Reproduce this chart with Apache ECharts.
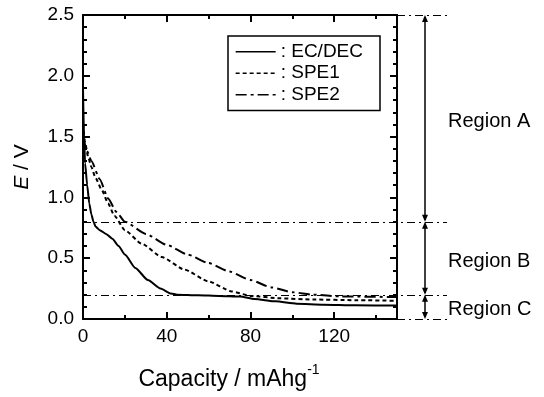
<!DOCTYPE html>
<html>
<head>
<meta charset="utf-8">
<script src="https://cdn.jsdelivr.net/npm/echarts@6/dist/echarts.min.js"></script>
<style>
  html, body { margin: 0; background: #fff; }
  #chart { width: 544px; height: 397px; }
</style>
</head>
<body>
<div id="chart"></div>
<script>
// discharge curves (capacity in mAh/g, E in V)
const capEC = [0, 0.5, 1, 2, 3, 4, 5, 6, 8, 11, 14, 17, 20, 25, 31, 37, 42, 45, 55, 65, 75, 82, 92, 102, 115, 130, 150]
const voltEC = [1.9, 1.5, 1.28, 1.1, 0.95, 0.86, 0.8, 0.76, 0.73, 0.7, 0.66, 0.6, 0.53, 0.42, 0.32, 0.25, 0.21, 0.2, 0.195, 0.19, 0.185, 0.165, 0.145, 0.126, 0.118, 0.113, 0.11]

const capSPE1 = [0, 1, 2.5, 4, 6, 9, 12, 15, 20, 28, 37.6, 48.7, 59.8, 71, 80, 94, 110, 130, 150]
const voltSPE1 = [1.6, 1.45, 1.33, 1.25, 1.16, 1.06, 0.95, 0.85, 0.73, 0.62, 0.51, 0.405, 0.31, 0.227, 0.19, 0.17, 0.16, 0.155, 0.15]

const capSPE2 = [0, 2, 4, 8, 12, 16, 20, 30, 40, 50, 60, 70, 80, 90, 100, 110, 123, 150]
const voltSPE2 = [1.5, 1.38, 1.3, 1.15, 0.99, 0.88, 0.8, 0.7, 0.61, 0.53, 0.46, 0.39, 0.32, 0.26, 0.22, 0.2, 0.186, 0.18]

const seriesNames = ['EC/DEC', 'SPE1', 'SPE2']
const xTickLabels = [0, 40, 80, 120]

// region boundaries (V) and their names, top to bottom
const regionBounds = [2.5, 0.8, 0.2, 0.0]
const regionNames = ['Region A', 'Region B', 'Region C']

const FONT = '"Liberation Sans", Arial, sans-serif'
const X_MAX = 150
const Y_MAX = 2.5

const chart = echarts.init(document.getElementById('chart'))

const pairs = (xs, ys) => xs.map((x, i) => [x, ys[i]])

// one x axis helper, used for the ticks on bottom and top
const xAxisDef = (position, step, tickLen, withLine) => ({
  type: 'value',
  position,
  min: 0,
  max: X_MAX,
  interval: step,
  axisLine: { show: withLine, onZero: false, lineStyle: { color: '#000', width: 2 } },
  axisTick: { show: true, inside: true, length: tickLen, lineStyle: { color: '#000', width: 2 } },
  axisLabel: { show: false },
  splitLine: { show: false },
})

const yAxisDef = (position) => ({
  type: 'value',
  position,
  min: 0,
  max: Y_MAX,
  interval: 0.5,
  axisLine: { show: true, onZero: false, lineStyle: { color: '#000', width: 2 } },
  axisTick: { show: true, inside: true, length: 7, lineStyle: { color: '#000', width: 2 } },
  minorTick: { show: true, splitNumber: 5, length: 4, lineStyle: { color: '#000', width: 2 } },
  axisLabel: { show: false },
  splitLine: { show: false },
})

const xMain = xAxisDef('bottom', 40, 7, true)
xMain.axisLabel = {
  show: true,
  color: '#000',
  fontSize: 19,
  fontFamily: FONT,
  margin: 8,
  formatter: (v) => (xTickLabels.includes(v) ? String(v) : ''),
}
xMain.name = '{t|Capacity / mAhg}{s|-1}'
xMain.nameLocation = 'middle'
xMain.nameGap = 37
xMain.nameTextStyle = {
  padding: [0, 22, 0, 0],
  rich: {
    t: { fontSize: 23, fontFamily: FONT, color: '#000', padding: [12, 0, 0, 0] },
    s: { fontSize: 14, fontFamily: FONT, color: '#000', padding: [0, 0, 6, 0] },
  },
}

const yMain = yAxisDef('left')
yMain.axisLabel = {
  show: true,
  color: '#000',
  fontSize: 19,
  fontFamily: FONT,
  margin: 9,
  formatter: (v) => v.toFixed(1),
}
yMain.name = '{i|E} / V'
yMain.nameLocation = 'middle'
yMain.nameGap = 50
yMain.nameRotate = 90
yMain.nameTextStyle = {
  fontSize: 21,
  fontFamily: FONT,
  color: '#000',
  rich: {
    i: { fontSize: 21, fontFamily: FONT, fontStyle: 'italic', color: '#000' },
  },
}

const lineTypes = ['solid', [4, 3], [11, 4, 3, 4]]
const seriesData = [pairs(capEC, voltEC), pairs(capSPE1, voltSPE1), pairs(capSPE2, voltSPE2)]

const option = {
  backgroundColor: '#fff',
  animation: false,
  grid: { left: 83, top: 15, right: 147, bottom: 78 },
  xAxis: [
    xMain,
    xAxisDef('bottom', 20, 4, false),
    xAxisDef('top', 40, 7, true),
    xAxisDef('top', 20, 4, false),
  ],
  yAxis: [yMain, yAxisDef('right')],
  legend: {
    orient: 'vertical',
    left: 228,
    top: 36,
    padding: [6, 17, 6, 7],
    itemGap: 2,
    itemWidth: 40,
    itemHeight: 14,
    borderColor: '#000',
    borderWidth: 1.5,
    borderRadius: 0,
    backgroundColor: '#fff',
    itemStyle: { opacity: 0 },
    lineStyle: { width: 1.3 },
    formatter: (name) => ': ' + name,
    textStyle: { color: '#000', fontSize: 19, fontFamily: FONT, lineHeight: 19.5 },
    data: seriesNames,
  },
  series: seriesNames.map((name, i) => ({
    name,
    type: 'line',
    data: seriesData[i],
    showSymbol: false,
    symbol: 'none',
    smooth: 0.2,
    smoothMonotone: 'x',
    color: '#000',
    lineStyle: { color: '#000', width: 2, type: lineTypes[i] },
    z: 3,
  })),
}

chart.setOption(option)

// region markers: dash-dot boundary lines and double arrows right of the plot
const px = (v) => chart.convertToPixel({ xAxisIndex: 0 }, v)
const py = (v) => chart.convertToPixel({ yAxisIndex: 0 }, v)
const xLeft = px(0)
const xRight = px(X_MAX)
const xEnd = xRight + 50
const xArrow = xRight + 28
const dashDot = [8, 4, 2, 4]

const graphics = []
regionBounds.forEach((b) => {
  const y = Math.round(py(b)) + 0.5
  const inside = b > 0 && b < Y_MAX
  graphics.push({
    type: 'line',
    z: 2,
    shape: { x1: inside ? xLeft : xRight, y1: y, x2: xEnd, y2: y },
    style: { stroke: '#000', lineWidth: 1.2, lineDash: dashDot },
  })
})

regionNames.forEach((name, i) => {
  const y1 = py(regionBounds[i])
  const y2 = py(regionBounds[i + 1])
  graphics.push({
    type: 'line',
    shape: { x1: xArrow, y1: y1 + 2, x2: xArrow, y2: y2 - 2 },
    style: { stroke: '#000', lineWidth: 1.5 },
  })
  graphics.push({
    type: 'polygon',
    shape: { points: [[xArrow, y1], [xArrow - 3, y1 + 7], [xArrow + 3, y1 + 7]] },
    style: { fill: '#000' },
  })
  graphics.push({
    type: 'polygon',
    shape: { points: [[xArrow, y2], [xArrow - 3, y2 - 7], [xArrow + 3, y2 - 7]] },
    style: { fill: '#000' },
  })
  graphics.push({
    type: 'text',
    style: {
      text: name,
      x: xArrow + 23,
      y: (y1 + y2) / 2 + 3,
      fill: '#000',
      fontSize: 20,
      fontFamily: FONT,
      align: 'left',
      verticalAlign: 'middle',
    },
  })
})

chart.setOption({ graphic: graphics })
</script>
</body>
</html>
